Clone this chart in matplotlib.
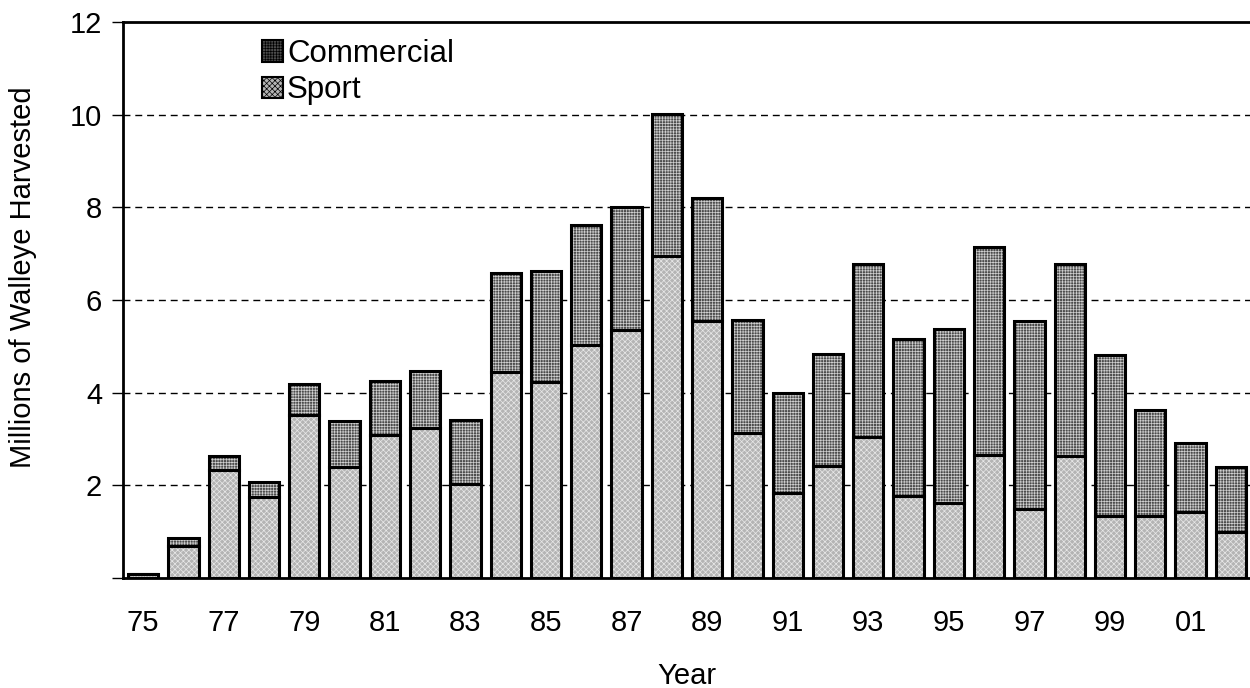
import matplotlib
matplotlib.use("Agg")
import matplotlib.pyplot as plt
import numpy as np
from matplotlib.patches import Patch

years = list(range(1975, 2003))
tick_labels = ["75", "77", "79", "81", "83", "85", "87", "89", "91", "93", "95", "97", "99", "01"]
sport = [0.08, 0.69, 2.33, 1.75, 3.52, 2.40, 3.09, 3.24, 2.03, 4.45, 4.23, 5.03, 5.36, 6.95,
         5.55, 3.13, 1.84, 2.42, 3.05, 1.77, 1.62, 2.66, 1.49, 2.63, 1.34, 1.34, 1.43, 0.99]
total = [0.09, 0.86, 2.63, 2.07, 4.19, 3.39, 4.25, 4.47, 3.41, 6.59, 6.63, 7.62, 8.01, 10.02,
         8.21, 5.57, 4.00, 4.84, 6.78, 5.16, 5.38, 7.15, 5.55, 6.78, 4.82, 3.63, 2.92, 2.40]
commercial = [t - s for t, s in zip(total, sport)]

plt.rcParams['font.family'] = ['Liberation Sans', 'DejaVu Sans']
plt.rcParams['hatch.linewidth'] = 0.5

fig = plt.figure(figsize=(12.5, 6.88), dpi=100)
ax = fig.add_axes([123/1250, 1-578/688, 1128/1250, (578-22)/688])

x = np.array(years) - 1900
w = 0.75
sport_face = '#b4b4b4'
sport_hatch = '#e8e8e8'
comm_face = '#4c4c4c'
comm_hatch = '#d0d0d0'

ax.bar(x, sport, w, color=sport_face, hatch='xxxxxx', edgecolor=sport_hatch, linewidth=0, zorder=2)
ax.bar(x, commercial, w, bottom=sport, color=comm_face, hatch='++++++', edgecolor=comm_hatch, linewidth=0, zorder=2)
ax.bar(x, sport, w, facecolor='none', edgecolor='black', linewidth=2.2, zorder=3)
ax.bar(x, commercial, w, bottom=sport, facecolor='none', edgecolor='black', linewidth=2.2, zorder=3)

ax.set_xlim(74.5, 102.5)
ax.set_ylim(0, 12)
ax.set_yticks([0, 2, 4, 6, 8, 10, 12])
ax.set_yticklabels(['', '2', '4', '6', '8', '10', '12'])
ax.set_xticks(list(range(75, 102, 2)))
ax.set_xticklabels(tick_labels)
ax.tick_params(axis='x', length=0, pad=22, labelsize=21)
ax.tick_params(axis='y', length=8, width=1, direction='out', pad=7, labelsize=21)

for yv in [2, 4, 6, 8, 10]:
    ax.axhline(yv, color='black', linestyle=(0, (5, 3.5)), linewidth=1.0, zorder=1)

ax.spines['right'].set_visible(False)
for s in ['left', 'bottom', 'top']:
    ax.spines[s].set_linewidth(2)

ax.set_ylabel('Millions of Walleye Harvested', fontsize=21)
ax.yaxis.set_label_coords((37-123)/1128, (578-277)/556)
ax.set_xlabel('Year', fontsize=21, labelpad=18)

handles = [Patch(facecolor=comm_face, hatch='++++++', edgecolor='black', linewidth=1.5),
           Patch(facecolor=sport_face, hatch='xxxxxx', edgecolor='black', linewidth=1.5)]
leg = ax.legend(handles, ['Commercial', 'Sport'], loc='upper left',
                bbox_to_anchor=((262-123)/1128, (578-39)/556),
                frameon=False, fontsize=22.5, handlelength=0.68, handleheight=0.68,
                handletextpad=0.12, labelspacing=0.2, borderaxespad=0, borderpad=0)

fig.savefig('out.png', dpi=100)
